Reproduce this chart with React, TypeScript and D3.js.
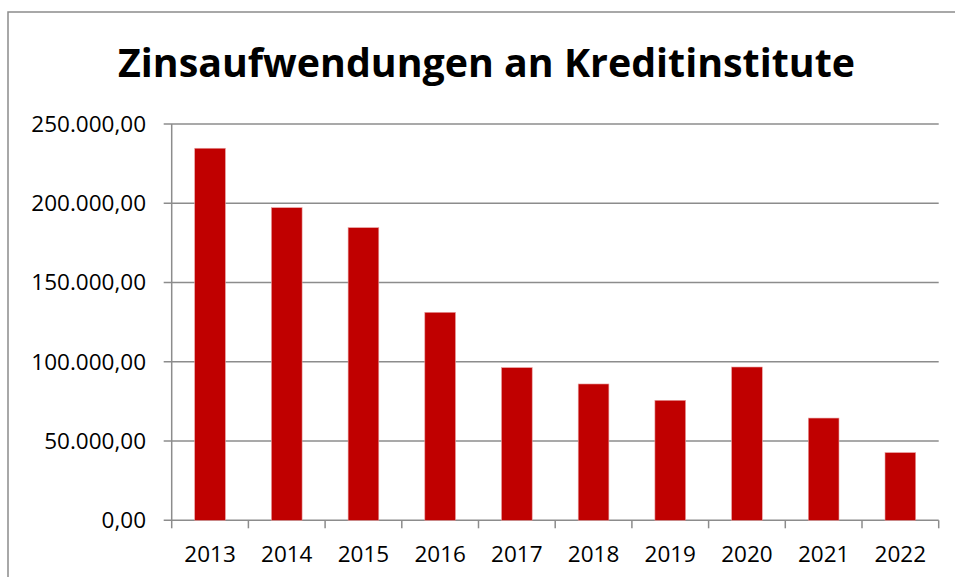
import React from "react";
import * as d3 from "d3";

const years = ["2013", "2014", "2015", "2016", "2017", "2018", "2019", "2020", "2021", "2022"];
const values = [234700, 197200, 184600, 131200, 96300, 86000, 75700, 96700, 64500, 42700];
const yTicks = [0, 50000, 100000, 150000, 200000, 250000];
const title = "Zinsaufwendungen an Kreditinstitute";

const W = 955;
const H = 577;
const left = 171.7;
const right = 938.7;
const top = 124;
const bottom = 520.3;

const fmt = (v: number) => {
  const s = d3.format(",.2f")(v);
  return s.replace(/,/g, "#").replace(".", ",").replace(/#/g, ".");
};

export default function App() {
  const x = d3.scaleBand<string>().domain(years).range([left, right]).paddingInner(0.6).paddingOuter(0.3);
  const y = d3.scaleLinear().domain([0, 250000]).range([bottom, top]);
  const step = x.step();
  const boundaries = d3.range(years.length + 1).map((i) => left + i * step);
  const grid = "#8c8c8c";
  const font = "'Open Sans', sans-serif";

  return (
    <svg width={W} height={H} style={{ position: "absolute", left: 0, top: 0, background: "#fff" }}>
      <rect x={8} y={12} width={W + 20} height={H + 20} fill="#fff" stroke={grid} strokeWidth={1.5} />
      <text
        x={486.5}
        y={77}
        textAnchor="middle"
        fontFamily={font}
        fontWeight="bold"
        fontSize={39}
        textLength={737}
        lengthAdjust="spacingAndGlyphs"
        fill="#000"
      >
        {title}
      </text>
      {yTicks.map((t) => (
        <g key={t}>
          <line x1={left - 8} x2={t === 0 ? right : right} y1={y(t)} y2={y(t)} stroke={grid} strokeWidth={1.5} />
          <text
            x={146}
            y={y(t)}
            dy="0.35em"
            textAnchor="end"
            fontFamily={font}
            fontSize={22.5}
            fill="#000"
          >
            {fmt(t)}
          </text>
        </g>
      ))}
      <line x1={left} x2={left} y1={top} y2={bottom} stroke={grid} strokeWidth={1.5} />
      {boundaries.map((b, i) => (
        <line key={i} x1={b} x2={b} y1={bottom} y2={bottom + 8} stroke={grid} strokeWidth={1.5} />
      ))}
      {years.map((yr, i) => (
        <rect
          key={yr}
          x={x(yr)}
          y={y(values[i])}
          width={x.bandwidth()}
          height={bottom - y(values[i])}
          fill="#c00000"
          stroke="#e8a0a0"
          strokeWidth={0.6}
        />
      ))}
      {years.map((yr) => (
        <text
          key={yr}
          x={(x(yr) as number) + x.bandwidth() / 2}
          y={562}
          textAnchor="middle"
          fontFamily={font}
          fontSize={22.5}
          fill="#000"
        >
          {yr}
        </text>
      ))}
    </svg>
  );
}
